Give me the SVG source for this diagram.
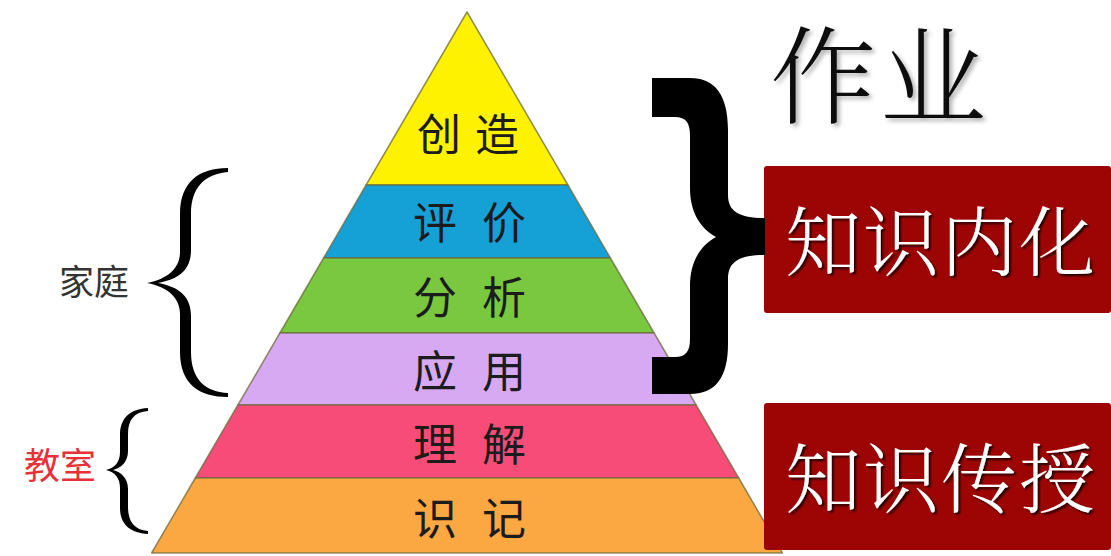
<svg xmlns="http://www.w3.org/2000/svg" width="1111" height="556" viewBox="0 0 1111 556">
  <style>
    .band { stroke: #6d6a3c; stroke-opacity: 0.75; stroke-width: 1.5; stroke-linejoin: round; }
    .lvl { font-family: "Noto Sans CJK SC", "Noto Sans", sans-serif; font-size: 44px; font-weight: 400; fill: #1c1c1c; text-anchor: middle; }
    .side { font-family: "Noto Sans CJK SC", "Noto Sans", sans-serif; text-anchor: middle; }
    .big { font-family: "Noto Serif CJK SC", "Noto Sans CJK SC", serif; font-weight: 300; text-anchor: middle; }
    .box { fill: #9d0505; }
    .boxtxt { fill: #ffffff; font-size: 76px; letter-spacing: 2px; filter: url(#emboss); }
  </style>
  <defs>
    <filter id="emboss" x="-20%" y="-30%" width="140%" height="160%">
      <feDropShadow dx="2" dy="2" stdDeviation="1" flood-color="#000000" flood-opacity="0.8"/>
    </filter>
    <filter id="soft" x="-20%" y="-30%" width="140%" height="160%">
      <feDropShadow dx="3" dy="3" stdDeviation="2" flood-color="#000000" flood-opacity="0.3"/>
    </filter>
  </defs>
  <rect width="1111" height="556" fill="#ffffff"/>

  <!-- pyramid levels -->
  <g id="level-create">
    <polygon class="band" points="467,12 567.9,185 366.1,185" fill="#fff200"/>
    <text class="lvl" x="439" y="151">创</text>
    <text class="lvl" x="497" y="151">造</text>
  </g>
  <g id="level-evaluate">
    <polygon class="band" points="366.1,185 567.9,185 610.4,258 323.6,258" fill="#15a0d6"/>
    <text class="lvl" x="435" y="239">评</text>
    <text class="lvl" x="504" y="239">价</text>
  </g>
  <g id="level-analyze">
    <polygon class="band" points="323.6,258 610.4,258 654.1,333 279.9,333" fill="#79c83f"/>
    <text class="lvl" x="435" y="314">分</text>
    <text class="lvl" x="504" y="314">析</text>
  </g>
  <g id="level-apply">
    <polygon class="band" points="279.9,333 654.1,333 696.1,405 237.9,405" fill="#d8a9f3"/>
    <text class="lvl" x="435" y="388">应</text>
    <text class="lvl" x="504" y="388">用</text>
  </g>
  <g id="level-understand">
    <polygon class="band" points="237.9,405 696.1,405 738.7,478 195.3,478" fill="#f84c78"/>
    <text class="lvl" x="435" y="461">理</text>
    <text class="lvl" x="504" y="461">解</text>
  </g>
  <g id="level-remember">
    <polygon class="band" points="195.3,478 738.7,478 782.4,553 151.6,553" fill="#fca842"/>
    <text class="lvl" x="435" y="535">识</text>
    <text class="lvl" x="504" y="535">记</text>
  </g>

  <!-- side labels -->
  <g id="label-home">
    <text class="side" x="94" y="295" font-size="35" fill="#333333">家庭</text>
  </g>
  <g id="label-classroom">
    <text class="side" x="60" y="479" font-size="36" fill="#e5323a">教室</text>
  </g>

  <!-- right side -->
  <g id="label-homework">
    <text class="big" x="880" y="115" font-size="106" fill="#111111" letter-spacing="4" filter="url(#soft)">作业</text>
  </g>
  <g id="box-internalize">
    <rect class="box" x="764" y="166" width="347" height="147" rx="3"/>
    <text class="big boxtxt" x="941" y="270">知识内化</text>
  </g>
  <g id="box-transfer">
    <rect class="box" x="764" y="403" width="347" height="147" rx="3"/>
    <text class="big boxtxt" x="941" y="507">知识传授</text>
  </g>

  <!-- connectors (braces) -->
  <g id="connectors" fill="#000000">
    <path id="brace-home" d="M 228 168 C 199 168 180 182 180 214 L 180 252 C 180 268 168 279 147 283 C 168 287 180 298 180 314 L 180 352 C 180 384 199 397 228 397 L 228 393 C 206 392 191 380 191 352 L 191 316 C 191 297 180 287 158 283 C 180 279 191 269 191 250 L 191 214 C 191 186 206 174 228 172 Z"/>
    <path id="brace-classroom" d="M 148 408 C 130 409 120 418 120 435 L 120 452 C 120 462 115 468 106 470 C 115 472 120 478 120 488 L 120 508 C 120 524 130 533 148 534 L 148 531 C 134 530 128 521 128 507 L 128 489 C 128 478 121 472 113 470 C 121 468 128 462 128 451 L 128 434 C 128 420 134 412 148 411 Z"/>
    <path id="brace-homework" d="M 652 78 L 690 78 C 715 78 728 95 728 130 L 728 195 C 728 212 740 218 765 218 L 765 255 C 740 255 728 261 728 279 L 728 344 C 728 378 715 394 690 394 L 652 394 L 652 357 L 675 357 C 686 357 690 351 690 339 L 690 286 C 690 262 700 246 716 237 C 700 228 690 212 690 188 L 690 135 C 690 123 686 117 675 117 L 652 117 Z"/>
  </g>
</svg>
